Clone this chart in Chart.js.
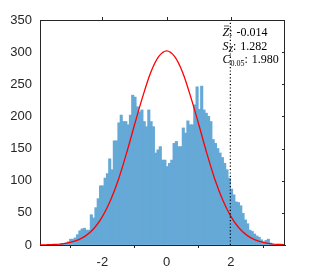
<!DOCTYPE html>
<html><head><meta charset="utf-8">
<script src="https://cdn.jsdelivr.net/npm/chart.js@4"></script>
<style>html,body{margin:0;padding:0;background:#fff;}canvas{display:block;}</style>
</head><body>
<canvas id="c" width="316" height="275"></canvas>
<script>
// ---- data ----
const binStart = -3.38;     // left edge of first histogram bin
const binWidth = 0.0715;    // histogram bin width
const binCounts = [1,2,2,3,5,9,9,11,16,22,25,26,23,23,47,42,58,72,92,92,
  104,111,134,117,162,162,190,202,192,192,187,202,233,230,215,207,210,192,184,210,
  192,184,143,148,153,132,132,122,127,132,158,161,153,153,182,174,193,187,187,218,
  246,211,247,210,205,200,192,164,158,150,143,136,127,117,104,87,78,67,66,61,
  49,39,33,23,21,17,14,12,8,5,7,9,3,1];
const curveX = [-4,-3.75,-3.5,-3.25,-3,-2.75,-2.5,-2.25,-2,-1.75,-1.5,-1.25,-1,-0.75,-0.5,-0.25,
  0,0.25,0.5,0.75,1,1.25,1.5,1.75,2,2.25,2.5,2.75,3,3.25,3.5,3.75];
const curveY = [0.14,0.35,0.8,1.9,4.0,8.0,15.0,26.5,44.2,69.3,102,142.5,187,230,268,293,
  302,293,268,230,187,142.5,102,69.3,44.2,26.5,15.0,8.0,4.0,1.9,0.8,0.35];
const criticalValue = 1.98;
const statNames = [['Z','', true],['S','Z', false],['C','0.05', false]];
const statValues = ['-0.014','1.282','1.980'];
const xTickValues = [-2,0,2];
const xMin = -3.94, xMax = 3.68;
const yMin = 0, yMax = 350, yStep = 50;

const axisColor = '#262626';

const histData = binCounts.map((c,i)=>({x: binStart + (i+0.5)*binWidth, y: c}));
const curveData = curveX.map((x,i)=>({x, y: curveY[i]}));
const critData = [{x: criticalValue, y: yMin},{x: criticalValue, y: yMax}];

const framePlugin = {
  id:'frame',
  afterDraw(chart){
    const {ctx, chartArea:a, scales:{x,y}} = chart;
    ctx.save();
    ctx.strokeStyle = axisColor; ctx.lineWidth = 1;
    ctx.beginPath();
    ctx.moveTo(a.left, a.top+0.5); ctx.lineTo(a.right, a.top+0.5);
    ctx.moveTo(a.right-0.5, a.top); ctx.lineTo(a.right-0.5, a.bottom);
    xTickValues.forEach(v=>{const px=Math.round(x.getPixelForValue(v))+0.5; ctx.moveTo(px,a.top); ctx.lineTo(px,a.top-3);});
    for(let v=yMin+yStep; v<yMax; v+=yStep){const py=Math.round(y.getPixelForValue(v))+0.5; ctx.moveTo(a.right,py); ctx.lineTo(a.right-3,py);}
    ctx.stroke();

    // statistics text
    ctx.fillStyle = '#000';
    ctx.textBaseline = 'alphabetic';
    const x0 = 222.5;
    const baselines = [36, 49.5, 63];
    const fam = "'Liberation Serif', 'Times New Roman', serif";
    statNames.forEach((s,i)=>{
      let cx = x0; const by = baselines[i];
      ctx.font = 'italic 12px ' + fam;
      ctx.fillText(s[0], cx, by);
      const w = ctx.measureText(s[0]).width;
      if (s[2]) { ctx.beginPath(); ctx.lineWidth = 0.8; ctx.moveTo(cx+1.5, by-10); ctx.lineTo(cx+w, by-10); ctx.stroke(); }
      cx += w;
      if (s[1]) {
        ctx.font = (isNaN(parseFloat(s[1])) ? 'italic ' : '') + '8px ' + fam;
        ctx.fillText(s[1], cx, by+2.5);
        cx += ctx.measureText(s[1]).width;
      }
      ctx.font = '12px ' + fam;
      ctx.fillText(':', cx, by);
      cx += ctx.measureText(': ').width + 1;
      ctx.fillText(statValues[i], cx, by);
    });
    ctx.restore();
  }
};

new Chart(document.getElementById('c'), {
  type: 'bar',
  data: {
    datasets: [
      { type:'line', data: critData, borderColor:'#000', borderWidth:1.2, borderDash:[1.2,2.2], pointRadius:0, order:0 },
      { type:'line', data: curveData, borderColor:'#ff0000', borderWidth:1.3, pointRadius:0, cubicInterpolationMode:'monotone', order:1 },
      { type:'bar', data: histData, backgroundColor:'#65a9d7', borderWidth:0, inflateAmount:0.4,
        barPercentage:1, categoryPercentage:1, order:2 }
    ]
  },
  options: {
    responsive:false, animation:false, devicePixelRatio:1,
    layout:{ padding:{ top:20, right:31, left:0, bottom:0 } },
    plugins:{ legend:{display:false}, tooltip:{enabled:false} },
    scales:{
      x:{ type:'linear', min:xMin, max:xMax, offset:false,
        afterBuildTicks: s=>{ s.ticks = xTickValues.map(v=>({value:v})); },
        afterFit: s=>{ s.height = 30; },
        grid:{ drawOnChartArea:false, drawTicks:true, tickLength:3, color:axisColor },
        border:{ display:true, color:axisColor, width:1 },
        ticks:{ color:axisColor, font:{family:"'Liberation Sans', Arial, sans-serif", size:13}, padding:7, maxRotation:0 } },
      y:{ min:yMin, max:yMax, 
        afterBuildTicks: s=>{ const t=[]; for(let v=yMin; v<=yMax; v+=yStep) t.push({value:v}); s.ticks=t; },
        afterFit: s=>{ s.width = 40; },
        grid:{ drawOnChartArea:false, drawTicks:false },
        border:{ display:true, color:axisColor, width:1 },
        ticks:{ color:axisColor, font:{family:"'Liberation Sans', Arial, sans-serif", size:13}, padding:8 } }
    }
  },
  plugins:[framePlugin]
});
</script>
</body></html>
